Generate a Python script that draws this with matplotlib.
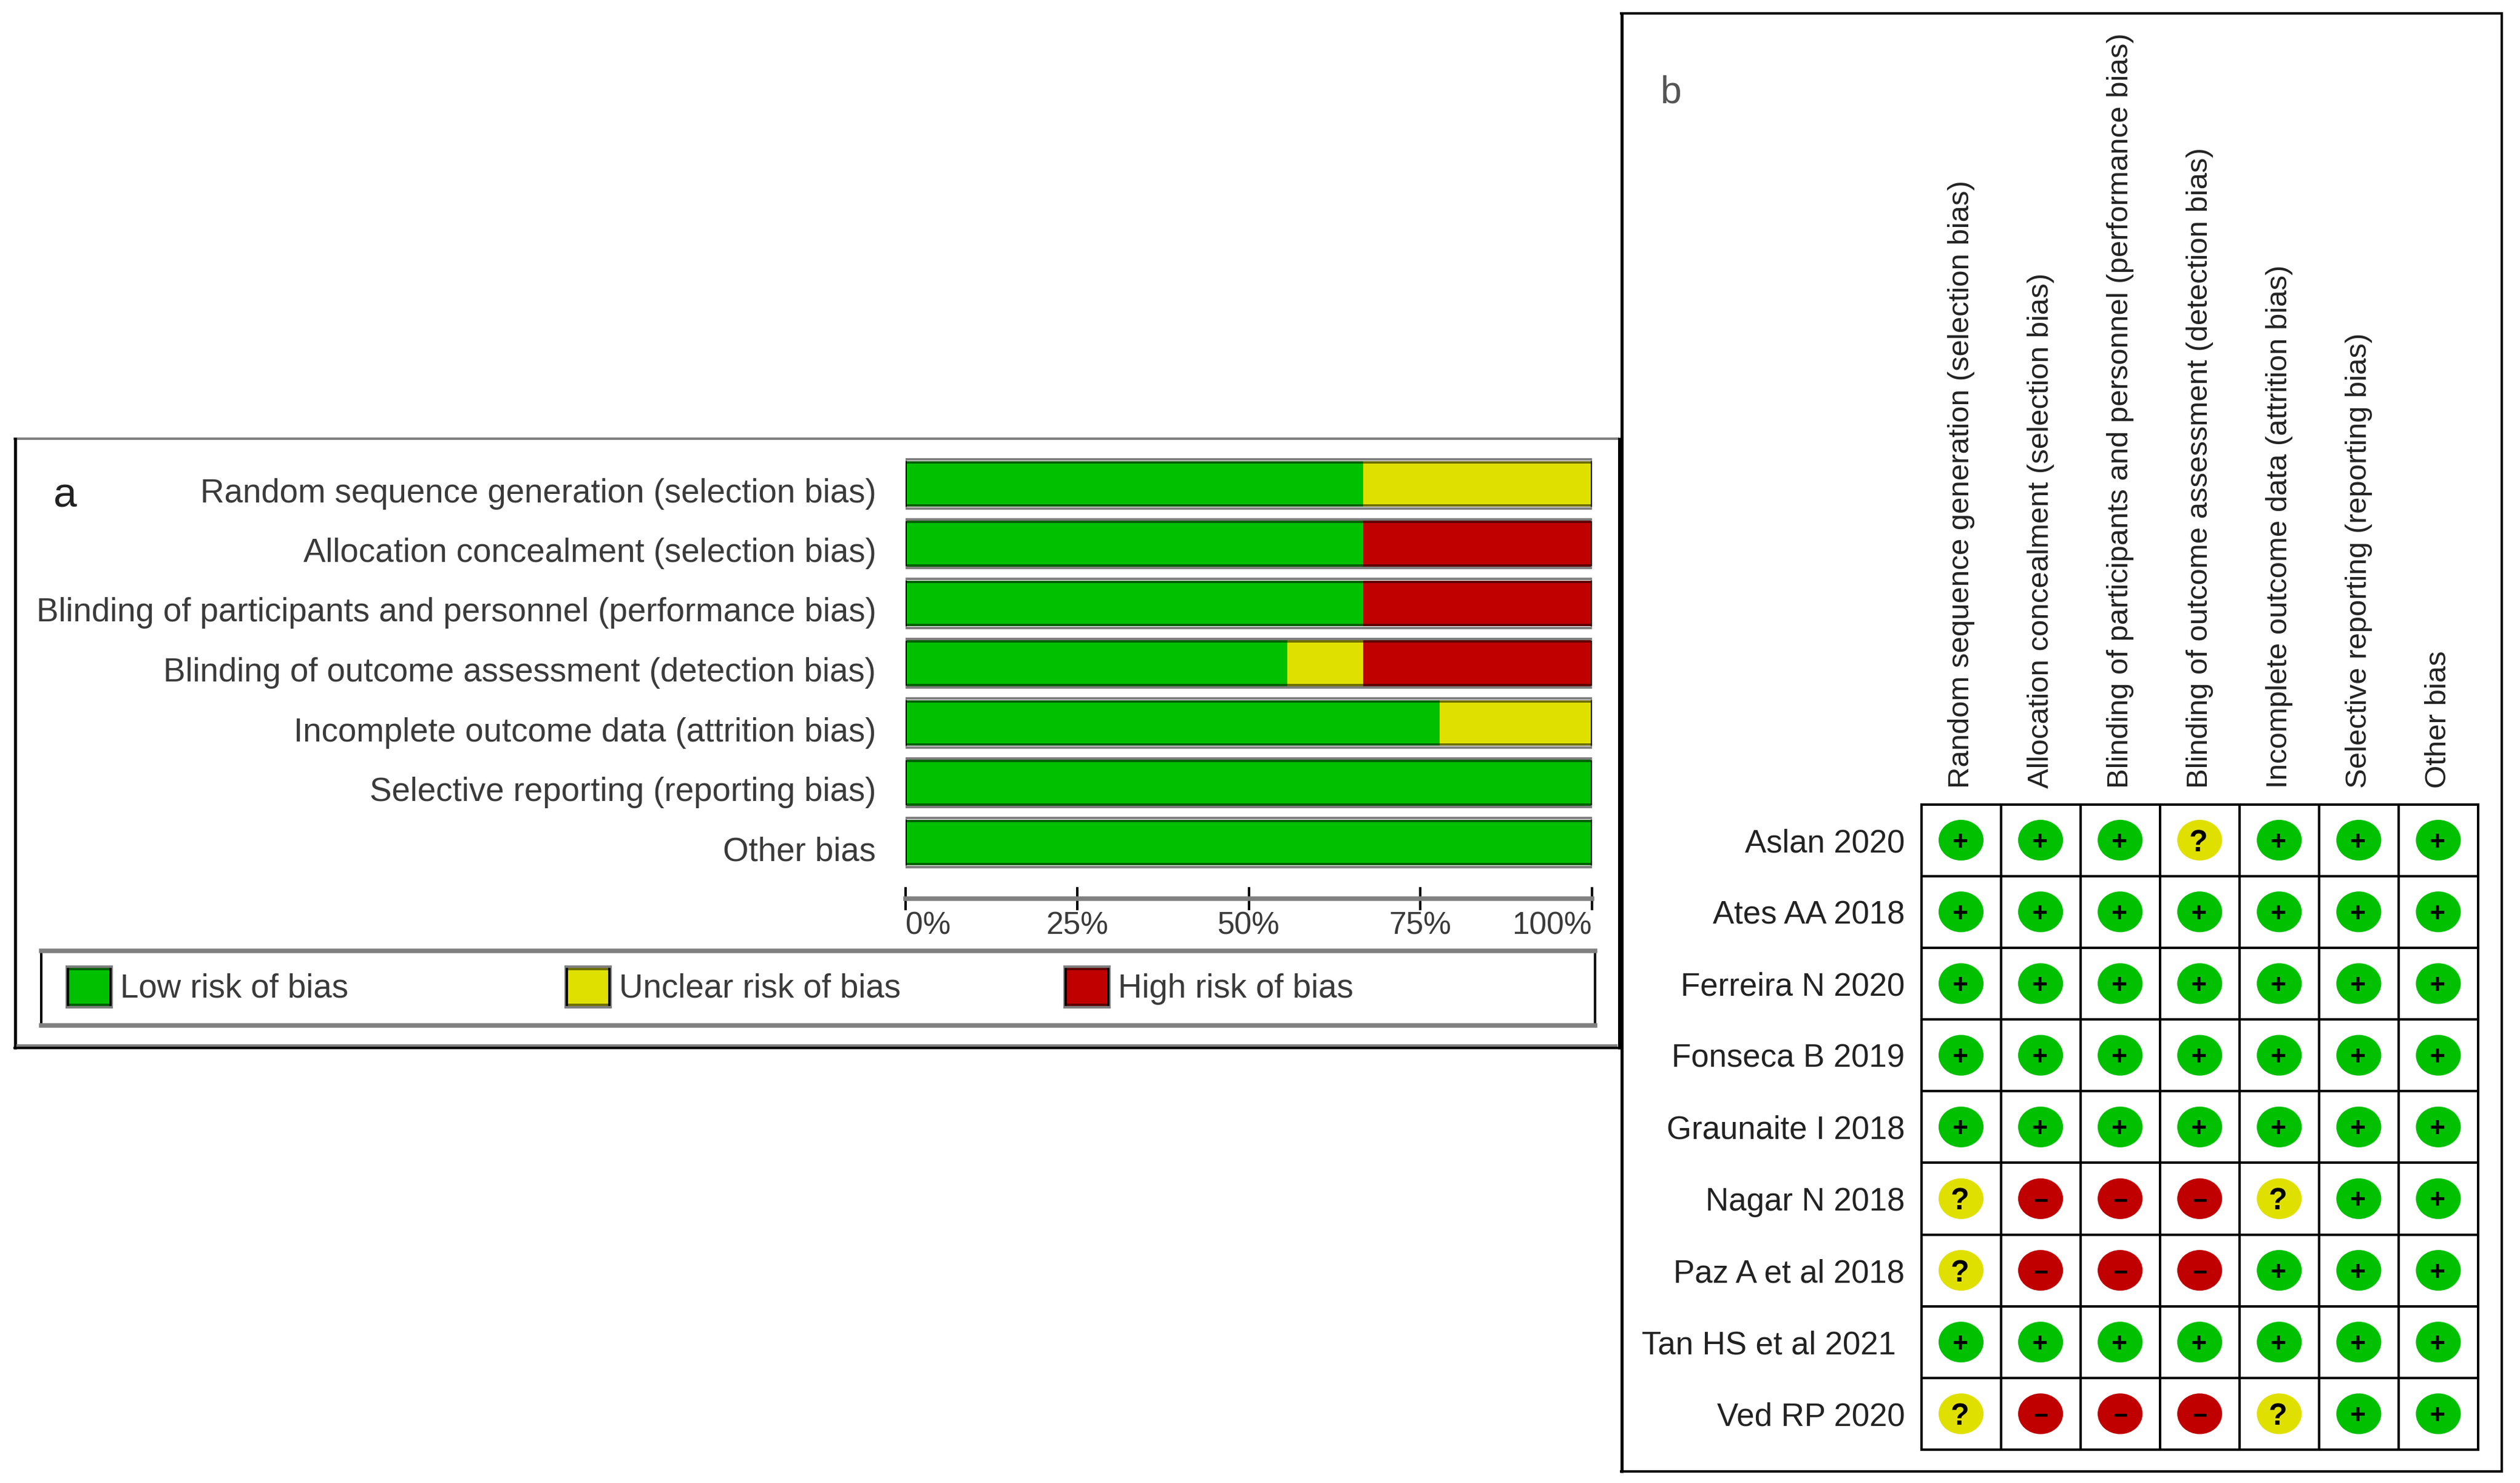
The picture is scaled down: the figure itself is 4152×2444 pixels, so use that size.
import matplotlib
matplotlib.use('Agg')
import matplotlib.pyplot as plt
from matplotlib.lines import Line2D
from matplotlib.patches import Ellipse
from matplotlib.transforms import ScaledTranslation

plt.rcParams['font.family'] = ['Liberation Sans', 'DejaVu Sans']

# Domains, same order in both panels
domains = ['Random sequence generation (selection bias)',
           'Allocation concealment (selection bias)',
           'Blinding of participants and personnel (performance bias)',
           'Blinding of outcome assessment (detection bias)',
           'Incomplete outcome data (attrition bias)',
           'Selective reporting (reporting bias)',
           'Other bias']
low_risk = [66.7, 66.7, 66.7, 55.6, 77.8, 100, 100]
unclear_risk = [33.3, 0, 0, 11.1, 22.2, 0, 0]
high_risk = [0, 33.3, 33.3, 33.3, 0, 0, 0]
percent_ticks = [0, 25, 50, 75, 100]
percent_labels = ['0%', '25%', '50%', '75%', '100%']
legend_labels = ['Low risk of bias', 'Unclear risk of bias', 'High risk of bias']

studies = ['Aslan 2020', 'Ates AA 2018', 'Ferreira N 2020', 'Fonseca B 2019',
           'Graunaite I 2018', 'Nagar N 2018', 'Paz A et al 2018',
           'Tan HS et al 2021 ', 'Ved RP 2020']
judgements = ['+++?+++',
              '+++++++',
              '+++++++',
              '+++++++',
              '+++++++',
              '?---?++',
              '?---+++',
              '+++++++',
              '?---?++']

GREEN = '#00C000'
YELLOW = '#E0E000'
RED = '#C00000'
GRAY = '#808080'
DARK = {GREEN: '#006000', YELLOW: '#707000', RED: '#600000'}
TEXT = '#3a3a3a'
W, H = 4152, 2444
FS = 39.3


def px(n):
    # line widths are measured in image pixels, dpi is 100
    return n * 0.72


def px_axes(left, top, right, bottom):
    return fig.add_axes([left / W, 1 - bottom / H, (right - left) / W, (bottom - top) / H])


def frame_line(x0, y0, x1, y1, color='black', lw=5):
    fig.add_artist(Line2D([x0 / W, x1 / W], [1 - y0 / H, 1 - y1 / H], color=color, lw=px(lw),
                          solid_capstyle='butt'))


fig = plt.figure(figsize=(W / 100, H / 100), dpi=100, facecolor='white')

# Panel frames
frame_line(22, 723, 2667, 723, GRAY, 4)
frame_line(24.5, 721, 24.5, 1729, 'black', 5)
frame_line(27, 1723, 2665, 1723, GRAY, 4)
frame_line(22, 1727, 2674, 1727, 'black', 4)
frame_line(2667.5, 721, 2667.5, 1729, 'black', 5)
frame_line(2671.5, 20, 2671.5, 2427, 'black', 5)
frame_line(2669, 22, 4124, 22, 'black', 4)
frame_line(4122, 20, 4122, 2427, 'black', 4)
frame_line(2669, 2425, 4124, 2425, 'black', 4)
fig.text(88 / W, 1 - 835 / H, 'a', fontsize=50, color='#222222', ha='left', va='baseline')
fig.text(2736 / W, 1 - 169 / H, 'b', fontsize=45, color='#555555', ha='left', va='baseline')

# Panel a: stacked bars
ax = px_axes(1492, 748.25, 2623, 1437.75)
rows = list(range(len(domains)))
fill_h = 0.76
dark_h = 0.721
left = [0] * len(rows)
ax.spines['bottom'].set_position(('outward', 31.1))
for values, color in [(low_risk, GREEN), (unclear_risk, YELLOW), (high_risk, RED)]:
    ax.barh(rows, values, left=left, height=fill_h, color=color, edgecolor='none', zorder=2)
    for r, v, l in zip(rows, values, left):
        if v > 0:
            ax.hlines([r - dark_h / 2, r + dark_h / 2], l, l + v, color=DARK[color], lw=px(4), zorder=3)
    left = [a + b for a, b in zip(left, values)]
ax.barh(rows, [100] * len(rows), height=0.822, fill=False, edgecolor=GRAY, lw=px(4), zorder=4)
for end in [0, 100]:
    ax.vlines([end] * len(rows), [r - fill_h / 2 for r in rows], [r + fill_h / 2 for r in rows],
              color='black', lw=px(4), zorder=5)
ax.set_xlim(0, 100)
ax.set_ylim(len(rows) - 0.5, -0.5)
ax.set_yticks(rows)
ax.set_yticklabels(domains, fontsize=FS, color=TEXT)
ax.tick_params(axis='y', length=0, pad=35)
label_shift = ScaledTranslation(0, -10 / 100, fig.dpi_scale_trans)
for lab in ax.get_yticklabels():
    lab.set_transform(lab.get_transform() + label_shift)
ax.set_xticks(percent_ticks)
ax.set_xticklabels(percent_labels, fontsize=37, color=TEXT)
for lab, ha in zip(ax.get_xticklabels(), ['left', 'center', 'center', 'center', 'right']):
    lab.set_ha(ha)
ax.tick_params(axis='x', direction='inout', length=28, width=px(4), color='black', pad=1)
for name in ['top', 'left', 'right']:
    ax.spines[name].set_visible(False)
ax.spines['bottom'].set_color(GRAY)
ax.spines['bottom'].set_linewidth(px(7.5))
ax.patch.set_visible(False)

# Panel a: legend box, its axes counts in image pixels
leg = px_axes(68, 1567, 2628, 1689.5)
leg.set_xlim(68, 2628)
leg.set_ylim(1689.5, 1567)
leg.set_xticks([])
leg.set_yticks([])
for name in ['top', 'bottom']:
    leg.spines[name].set_color(GRAY)
    leg.spines[name].set_linewidth(px(7.5))
for name in ['left', 'right']:
    leg.spines[name].set_linewidth(px(4))
for x, label, color in zip([110, 932, 1754], legend_labels, [GREEN, YELLOW, RED]):
    leg.bar(x + 37, 63, width=70, bottom=1595, color=color, edgecolor='none', zorder=2)
    leg.hlines([1597, 1656], x + 2, x + 72, color=DARK[color], lw=px(4), zorder=3)
    leg.bar(x + 37, 67, width=74, bottom=1593, fill=False, edgecolor=GRAY, lw=px(4), zorder=4)
    leg.vlines([x + 2, x + 72], 1595, 1658, color='black', lw=px(4), zorder=5)
    leg.text(x + 88, 1630, label, fontsize=FS, color=TEXT, va='center', ha='left')

# Panel b: judgement matrix
mx = px_axes(3165.5, 1325.5, 4083, 2389)
n_rows, n_cols = len(studies), len(domains)
mx.set_xlim(0, n_cols)
mx.set_ylim(n_rows, 0)
marks = {'+': (GREEN, '+', 32), '?': (YELLOW, '?', 36), '-': (RED, '\u2212', 30)}
for i, line in enumerate(judgements):
    for j, symbol in enumerate(line):
        fill, glyph, size = marks[symbol]
        mx.add_patch(Ellipse((j + 0.5, i + 0.5), 0.565, 0.568, facecolor=fill, edgecolor='none', zorder=2))
        mx.text(j + 0.485 if symbol != '-' else j + 0.5, i + 0.5, glyph, fontsize=size, fontweight='bold',
                color='black', ha='center', va='center_baseline', zorder=3)
mx.set_xticks([j + 0.5 for j in range(n_cols)])
mx.set_xticklabels(domains, rotation=90, fontsize=35.4, color='#222222', ha='center', va='bottom')
mx.xaxis.tick_top()
mx.set_yticks([i + 0.5 for i in range(n_rows)])
mx.set_yticklabels(studies, fontsize=38, color='#222222')
mx.tick_params(axis='both', length=0)
mx.tick_params(axis='x', pad=19)
mx.tick_params(axis='y', pad=19.5)
mx.set_xticks(range(n_cols + 1), minor=True)
mx.set_yticks(range(n_rows + 1), minor=True)
mx.tick_params(which='minor', length=0)
mx.grid(which='minor', color='black', lw=px(4), zorder=1)
mx.set_axisbelow(True)
for s in mx.spines.values():
    s.set_linewidth(px(4))

fig.savefig('out.png', dpi=100, facecolor='white')
